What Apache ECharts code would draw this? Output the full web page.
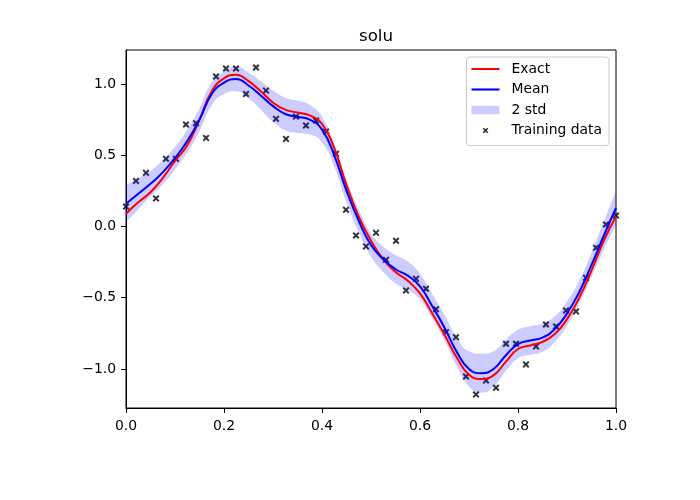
<!DOCTYPE html>
<html lang="en">
<head>
  <meta charset="UTF-8">
  <title>solu</title>
  <script src="https://cdn.jsdelivr.net/npm/echarts@6/dist/echarts.min.js"></script>
  <style>
    body { margin: 0; background: #fff; }
    #main { width: 700px; height: 500px; }
  </style>
</head>
<body>
  <div id="main"></div>
  <script>
  // curve grid
  const xs = [0, 0.025, 0.05, 0.075, 0.1, 0.125, 0.15, 0.175, 0.2, 0.225,
    0.25, 0.275, 0.3, 0.325, 0.35, 0.375, 0.4, 0.425, 0.45, 0.475,
    0.5, 0.525, 0.55, 0.575, 0.6, 0.625, 0.65, 0.675, 0.7, 0.725,
    0.75, 0.775, 0.8, 0.825, 0.85, 0.875, 0.9, 0.925, 0.95, 0.975, 1];

  const exact = [0.09, 0.17, 0.24, 0.34, 0.46, 0.57, 0.75, 0.95, 1.04, 1.065,
    1.02, 0.95, 0.87, 0.82, 0.80, 0.78, 0.72, 0.55, 0.29, 0.07,
    -0.10, -0.23, -0.32, -0.38, -0.47, -0.61, -0.76, -0.92, -1.04, -1.07,
    -1.045, -0.95, -0.86, -0.835, -0.81, -0.755, -0.65, -0.50, -0.31, -0.10, 0.07];

  const mean = [0.16, 0.23, 0.30, 0.38, 0.48, 0.60, 0.75, 0.93, 1.01, 1.035,
    0.99, 0.92, 0.845, 0.79, 0.77, 0.75, 0.68, 0.50, 0.25, 0.04,
    -0.13, -0.23, -0.30, -0.345, -0.42, -0.56, -0.71, -0.88, -1.00, -1.03,
    -1.00, -0.905, -0.825, -0.80, -0.78, -0.72, -0.61, -0.46, -0.27, -0.065, 0.13];

  const std = [0.065, 0.055, 0.045, 0.043, 0.04, 0.04, 0.04, 0.04, 0.04, 0.043,
    0.045, 0.05, 0.055, 0.057, 0.057, 0.052, 0.045, 0.04, 0.04, 0.04,
    0.04, 0.045, 0.05, 0.05, 0.045, 0.043, 0.045, 0.05, 0.062, 0.068,
    0.062, 0.055, 0.05, 0.05, 0.05, 0.045, 0.043, 0.04, 0.043, 0.05, 0.06];

  // training points
  const trainX = [0, 0.0204, 0.0408, 0.0612, 0.0816, 0.102, 0.1224, 0.1429, 0.1633, 0.1837,
    0.2041, 0.2245, 0.2449, 0.2653, 0.2857, 0.3061, 0.3265, 0.3469, 0.3673, 0.3878,
    0.4082, 0.4286, 0.449, 0.4694, 0.4898, 0.5102, 0.5306, 0.551, 0.5714, 0.5918,
    0.6122, 0.6327, 0.6531, 0.6735, 0.6939, 0.7143, 0.7347, 0.7551, 0.7755, 0.7959,
    0.8163, 0.8367, 0.8571, 0.8776, 0.898, 0.9184, 0.9388, 0.9592, 0.9796, 1];

  const trainY = [0.14, 0.32, 0.377, 0.197, 0.475, 0.475, 0.716, 0.725, 0.622, 1.053,
    1.109, 1.109, 0.93, 1.116, 0.954, 0.756, 0.615, 0.772, 0.709, 0.744,
    0.667, 0.51, 0.117, -0.063, -0.14, -0.044, -0.234, -0.1, -0.449, -0.367,
    -0.437, -0.58, -0.742, -0.777, -1.053, -1.179, -1.081, -1.132, -0.823, -0.823,
    -0.968, -0.842, -0.688, -0.702, -0.589, -0.596, -0.36, -0.149, 0.014, 0.077];

  const yTicks = [-1, -0.5, 0, 0.5, 1];

  const font = 'DejaVu Sans';
  const cross = 'M2,0 L5,3 L8,0 L10,2 L7,5 L10,8 L8,10 L5,7 L2,10 L0,8 L3,5 L0,2 Z';
  const crossPath = 'path://' + cross;
  // same cross with invisible corner dots so the legend draws it smaller
  const crossLegend = 'path://M-2.5,-2.5 h0.01 v0.01 h-0.01 Z M12.5,12.5 h0.01 v0.01 h-0.01 Z ' + cross;
  const linePath = 'path://M0,0 H28 V2.1 H0 Z';

  const pair = (a, b) => a.map((v, i) => [v, b[i]]);
  const lower = mean.map((m, i) => m - 2 * std[i]);
  const width = std.map(s => 4 * s);
  const fmt = v => v.toFixed(1).replace('-', '\u2212');

  const chart = echarts.init(document.getElementById('main'));

  chart.setOption({
    animation: false,
    backgroundColor: '#fff',
    title: {
      text: 'solu',
      left: 371,
      top: 23,
      textAlign: 'center',
      textStyle: { fontFamily: font, fontSize: 16.7, fontWeight: 'normal', color: '#000' }
    },
    grid: {
      left: 126, top: 50, width: 490, height: 358,
      show: true, borderColor: '#000', borderWidth: 1
    },
    legend: {
      orient: 'vertical',
      right: 91,
      top: 57,
      padding: [5, 7, 8, 5],
      itemWidth: 28,
      itemHeight: 8.5,
      itemGap: 6.5,
      selectedMode: false,
      backgroundColor: 'rgba(255,255,255,0.8)',
      borderColor: '#cccccc',
      borderWidth: 1,
      borderRadius: 3,
      itemStyle: { borderWidth: 0 },
      textStyle: { fontFamily: font, fontSize: 13.9, color: '#000', padding: [0, 0, 0, 7] },
      data: [
        { name: 'Exact', icon: linePath, itemStyle: { color: '#ff0000' } },
        { name: 'Mean', icon: linePath, itemStyle: { color: '#0000ff' } },
        { name: '2 std', icon: 'rect', itemStyle: { color: 'rgba(0,0,255,0.2)' } },
        { name: 'Training data', icon: crossLegend, itemStyle: { color: '#000' } }
      ]
    },
    xAxis: [
      {
        type: 'value',
        min: 0, max: 1, interval: 0.2,
        splitLine: { show: false },
        axisLine: { onZero: false, lineStyle: { color: '#000', width: 1 } },
        axisTick: { length: 5, lineStyle: { color: '#000' } },
        axisLabel: { margin: 11, color: '#000', fontFamily: font, fontSize: 13.9, formatter: fmt }
      },
      {
        // hidden twin axis so the band can be stacked
        type: 'category',
        data: xs,
        boundaryGap: false,
        show: false
      }
    ],
    yAxis: {
      type: 'value',
      min: -1.274, max: 1.239,
      splitLine: { show: false },
      axisLine: { show: true, onZero: false, lineStyle: { color: '#000', width: 1 } },
      axisTick: { show: true, length: 5, customValues: yTicks, lineStyle: { color: '#000' } },
      axisLabel: { margin: 10, color: '#000', fontFamily: font, fontSize: 13.9, customValues: yTicks, formatter: fmt }
    },
    series: [
      {
        name: 'bandLower',
        type: 'line',
        xAxisIndex: 1,
        data: lower,
        stack: 'band',
        stackStrategy: 'all',
        smooth: true,
        symbol: 'none',
        silent: true,
        lineStyle: { opacity: 0 }
      },
      {
        name: '2 std',
        type: 'line',
        xAxisIndex: 1,
        data: width,
        stack: 'band',
        stackStrategy: 'all',
        smooth: true,
        symbol: 'none',
        silent: true,
        itemStyle: { color: 'rgba(0,0,255,0.2)' },
        lineStyle: { opacity: 0 },
        areaStyle: { color: 'rgba(0,0,255,0.2)', opacity: 1 }
      },
      {
        name: 'Exact',
        type: 'line',
        data: pair(xs, exact),
        smooth: true,
        symbol: 'none',
        itemStyle: { color: '#ff0000' },
        lineStyle: { color: '#ff0000', width: 2 }
      },
      {
        name: 'Mean',
        type: 'line',
        data: pair(xs, mean),
        smooth: true,
        symbol: 'none',
        itemStyle: { color: '#0000ff' },
        lineStyle: { color: '#0000ff', width: 2 }
      },
      {
        name: 'Training data',
        type: 'scatter',
        data: pair(trainX, trainY),
        symbol: crossPath,
        symbolSize: 7,
        itemStyle: { color: '#000' }
      }
    ]
  });
  </script>
</body>
</html>
